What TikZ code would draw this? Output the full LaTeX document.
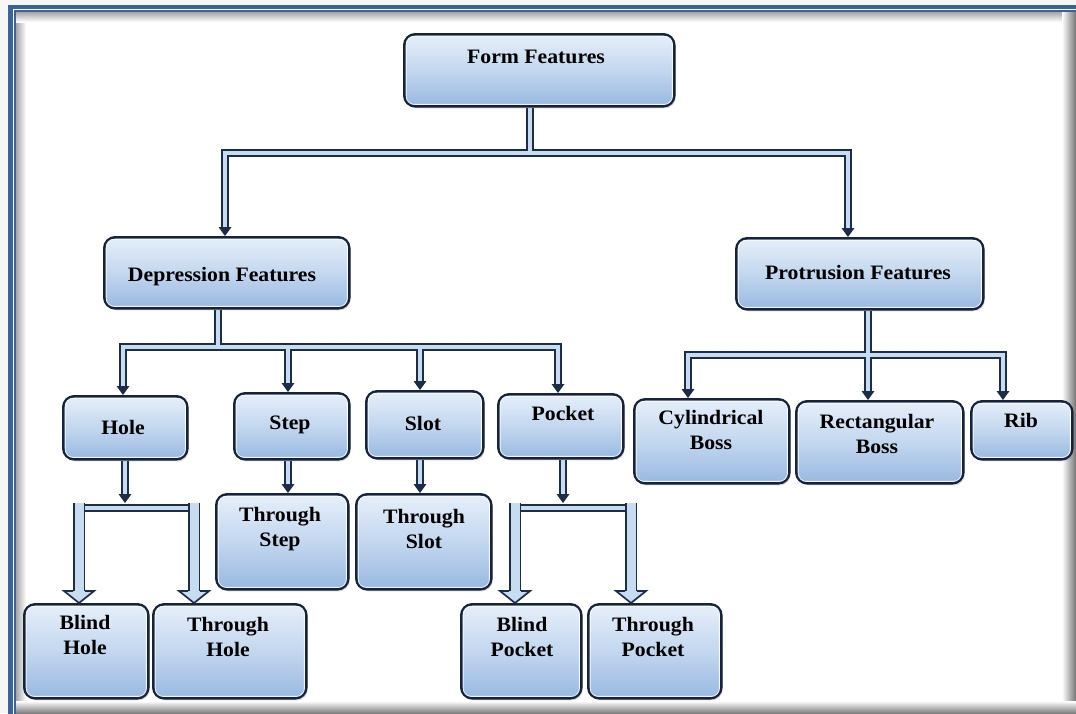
\documentclass[tikz,border=0pt]{standalone}
\usepackage{fontspec}
\setmainfont{Liberation Serif}[FakeStretch=1.06]
\usetikzlibrary{calc,shadows}
\definecolor{fblue}{HTML}{3B6398}
\definecolor{bdark}{HTML}{16233A}
\definecolor{btop}{HTML}{E6EFFA}
\definecolor{bmid}{HTML}{C3D7EF}
\definecolor{bbot}{HTML}{98B8E0}
\definecolor{cdark}{HTML}{1C2D45}
\definecolor{clight}{HTML}{C8DCF1}
\pgfdeclarelayer{back}
\pgfdeclarelayer{conns}
\pgfsetlayers{back,conns,main}
\tikzset{
  box/.style={draw=bdark, line width=2.6pt, rounded corners=11pt,
    top color=btop, bottom color=bbot, middle color=bmid,
    drop shadow={opacity=0.3, shadow xshift=1.5pt, shadow yshift=-2pt}},
  inl/.style={draw=white, line width=0.9pt, rounded corners=8pt, opacity=0.85},
  txt/.style={font={\fontsize{20.5}{25}\selectfont\bfseries}, align=center, inner sep=0pt, text=black},
  conn/.style={draw=cdark, line width=2pt, double=clight, double distance=4.8pt, line join=miter},
  wconn/.style={draw=cdark, line width=1.8pt, double=clight, double distance=9pt},
  whd/.style={fill=clight, draw=cdark, line width=1.7pt, line join=miter}
}
\newcommand\mkbox[5]{%
  \node[box, anchor=north west, minimum width={(#4-#2)*1pt}, minimum height={(#5-#3)*1pt}] (#1) at (#2,#3) {};
  \draw[inl] ($(#1.north west)+(3.2,3.2)$) rectangle ($(#1.south east)+(-3.2,-3.2)$);
}
\newcommand\nhead[1]{\fill[cdark] ($(#1)+(-6.5,-9)$) -- (#1) -- ($(#1)+(6.5,-9)$) -- cycle;}
\newcommand\whead[1]{\filldraw[whd] ($(#1)+(-6,-12)$) -- ($(#1)+(-15,-12)$) -- (#1) -- ($(#1)+(15,-12)$) -- ($(#1)+(6,-12)$);}
\begin{document}
\begin{tikzpicture}[x=1pt,y=-1pt]
\useasboundingbox (0,0) rectangle (1076,713);
\clip (0,0) rectangle (1076,713);
\begin{pgfonlayer}{back}
\fill[gray!7] (0,0) rectangle (1076,713);
\fill[white] (16,12) rectangle (1076,713);
\shade[left color=black!35, right color=white] (16,12) rectangle (26,713);
\shade[top color=black!35, bottom color=white] (16,12) rectangle (1076,22);
\shade[left color=white, right color=black!55] (1062,12) rectangle (1076,713);
\shade[top color=white, bottom color=black!50] (16,701) rectangle (1076,713);
\draw[fblue, line width=4.6pt] (10.6,720) -- (10.6,6.8) -- (1080,6.8);
\draw[fblue, line width=1.8pt] (15.2,720) -- (15.2,11.2) -- (1080,11.2);
\end{pgfonlayer}

% boxes
\mkbox{ff}{403}{33}{673}{105}
\mkbox{dep}{103}{236}{348}{307}
\mkbox{pro}{735}{237}{982}{308}
\mkbox{hole}{62}{395}{186}{458}
\mkbox{step}{233}{392}{348}{458}
\mkbox{slot}{365}{390}{482}{457}
\mkbox{pocket}{497}{393}{622}{457}
\mkbox{tstep}{215}{493}{347}{588}
\mkbox{tslot}{355}{493}{490}{588}
\mkbox{bhole}{23}{603}{147}{697}
\mkbox{thole}{152}{603}{305}{697}
\mkbox{bpocket}{460}{603}{580}{697}
\mkbox{tpocket}{587}{603}{720}{697}
\mkbox{cyl}{633}{398}{788}{482}
\mkbox{rect}{795}{400}{962}{482}
\mkbox{rib}{970}{400}{1071}{458}

% texts
\node[txt] (ffT) at (536,57) {Form Features};
\node[txt] (depT) at (222,277) {Depression Features};
\node[txt] (proT) at (858,273) {Protrusion Features};
\node[txt] (holeT) at (123,427) {Hole};
\node[txt] (stepT) at (290,425) {Step};
\node[txt] (slotT) at (423,423) {Slot};
\node[txt] (pocketT) at (563,413) {Pocket};
\node[txt] (tstepT) at (280,529) {Through\\Step};
\node[txt] (tslotT) at (424,529) {Through\\Slot};
\node[txt] (bholeT) at (85,635) {Blind\\Hole};
\node[txt] (tholeT) at (228,637) {Through\\Hole};
\node[txt] (bpocketT) at (522,637) {Blind\\Pocket};
\node[txt] (tpocketT) at (653,637) {Through\\Pocket};
\node[txt] (cylT) at (711,430) {Cylindrical\\Boss};
\node[txt] (rectT) at (877,434) {Rectangular\\Boss};
\node[txt] (ribT) at (1021,420) {Rib};

\begin{pgfonlayer}{conns}
% level 0
\coordinate (m0) at (530,153);
\coordinate (m1) at (225,153);
\coordinate (m2) at (848,153);
\coordinate (sFF) at (ff.south -| m0);
\coordinate (tDep) at (dep.north -| m1);
\coordinate (tPro) at (pro.north -| m2);
\draw[conn] (sFF) -- (m0) ($(tDep)+(0,-8)$) -- (m1) -- (m2) -- ($(tPro)+(0,-8)$);
\nhead{tDep}
\nhead{tPro}
% depression level
\coordinate (d0) at (218,347);
\coordinate (d1) at (123,347);
\coordinate (d2) at (288,347);
\coordinate (d3) at (420,347);
\coordinate (d4) at (558,347);
\coordinate (sDep) at (dep.south -| d0);
\coordinate (tHole) at (hole.north -| d1);
\coordinate (tStep) at (step.north -| d2);
\coordinate (tSlot) at (slot.north -| d3);
\coordinate (tPocket) at (pocket.north -| d4);
\draw[conn] (sDep) -- (d0) ($(tHole)+(0,-8)$) -- (d1) -- (d4) -- ($(tPocket)+(0,-8)$)
  (d2) -- ($(tStep)+(0,-8)$) (d3) -- ($(tSlot)+(0,-8)$);
\nhead{tHole}
\nhead{tStep}
\nhead{tSlot}
\nhead{tPocket}
% protrusion level
\coordinate (p0) at (868,355);
\coordinate (p1) at (688,355);
\coordinate (p2) at (1003,355);
\coordinate (sPro) at (pro.south -| p0);
\coordinate (tCyl) at (cyl.north -| p1);
\coordinate (tRect) at (rect.north -| p0);
\coordinate (tRib) at (rib.north -| p2);
\draw[conn] (sPro) -- ($(tRect)+(0,-8)$) ($(tCyl)+(0,-8)$) -- (p1) -- (p2) -- ($(tRib)+(0,-8)$);
\nhead{tCyl}
\nhead{tRect}
\nhead{tRib}
% step and slot
\coordinate (tTS) at (tstep.north -| d2);
\coordinate (tTL) at (tslot.north -| d3);
\draw[conn] (step.south -| d2) -- ($(tTS)+(0,-8)$);
\draw[conn] (slot.south -| d3) -- ($(tTL)+(0,-8)$);
\nhead{tTS}
\nhead{tTL}
% hole
\coordinate (hbL) at (79,508);
\coordinate (hbR) at (194,508);
\coordinate (tHB) at (125,503);
\coordinate (sHB) at (hole.south -| tHB);
\draw[conn] (sHB) -- ($(tHB)+(0,-8)$);
\nhead{tHB}
\draw[conn] (hbL) -- (hbR);
\coordinate (tBH) at (bhole.north -| hbL);
\coordinate (tTH) at (thole.north -| hbR);
\draw[wconn] ($(hbL)+(0,-5)$) -- ($(tBH)+(0,-11)$);
\draw[wconn] ($(hbR)+(0,-5)$) -- ($(tTH)+(0,-11)$);
\whead{tBH}
\whead{tTH}
% pocket
\coordinate (pkL) at (515,508);
\coordinate (pkR) at (631,508);
\coordinate (tPK) at (563,503);
\coordinate (sPK) at (pocket.south -| tPK);
\draw[conn] (sPK) -- ($(tPK)+(0,-8)$);
\nhead{tPK}
\draw[conn] (pkL) -- (pkR);
\coordinate (tBP) at (bpocket.north -| pkL);
\coordinate (tTP) at (tpocket.north -| pkR);
\draw[wconn] ($(pkL)+(0,-5)$) -- ($(tBP)+(0,-11)$);
\draw[wconn] ($(pkR)+(0,-5)$) -- ($(tTP)+(0,-11)$);
\whead{tBP}
\whead{tTP}
\end{pgfonlayer}
\end{tikzpicture}
\end{document}
